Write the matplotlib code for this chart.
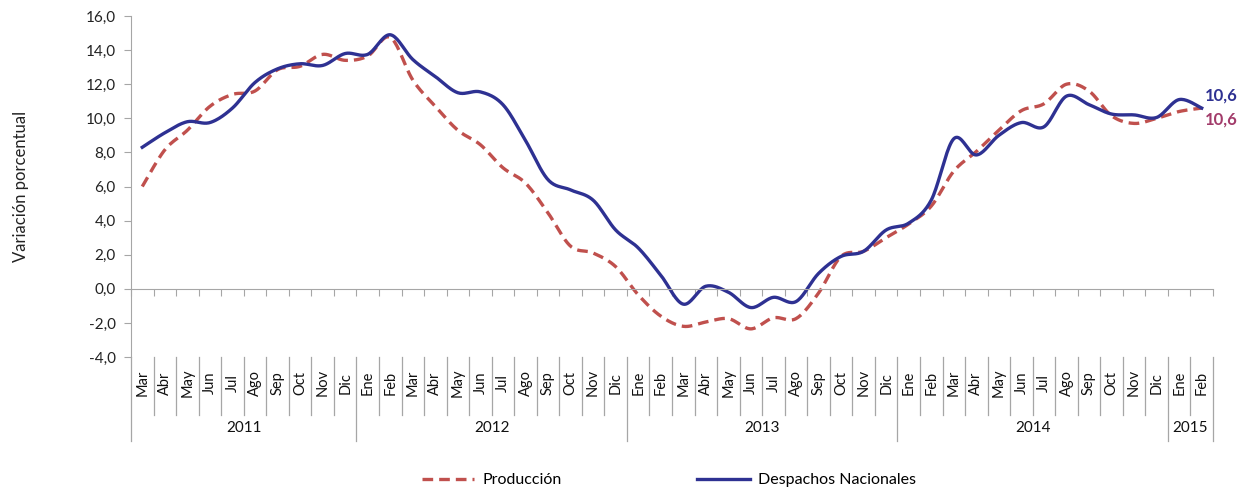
import numpy as np
import matplotlib
matplotlib.use('Agg')
import matplotlib.pyplot as plt
from matplotlib.lines import Line2D
from matplotlib.ticker import FuncFormatter, FixedLocator

# Variacion porcentual, Mar 2011 - Feb 2015
months = ['Mar', 'Abr', 'May', 'Jun', 'Jul', 'Ago', 'Sep', 'Oct', 'Nov', 'Dic',
          'Ene', 'Feb', 'Mar', 'Abr', 'May', 'Jun', 'Jul', 'Ago', 'Sep', 'Oct', 'Nov', 'Dic',
          'Ene', 'Feb', 'Mar', 'Abr', 'May', 'Jun', 'Jul', 'Ago', 'Sep', 'Oct', 'Nov', 'Dic',
          'Ene', 'Feb', 'Mar', 'Abr', 'May', 'Jun', 'Jul', 'Ago', 'Sep', 'Oct', 'Nov', 'Dic',
          'Ene', 'Feb']
years = ['2011', '2012', '2013', '2014', '2015']
year_counts = [10, 12, 12, 12, 2]

produccion = [6.0, 8.15, 9.3, 10.7, 11.4, 11.6, 12.85, 13.05, 13.75, 13.4,
              13.65, 14.75, 12.25, 10.7, 9.3, 8.45, 7.1, 6.2, 4.45, 2.5, 2.1, 1.3,
              -0.35, -1.6, -2.2, -1.95, -1.75, -2.35, -1.7, -1.75, -0.25, 1.9, 2.2, 3.0,
              3.8, 4.85, 6.9, 8.05, 9.3, 10.45, 10.85, 12.0, 11.6, 10.15, 9.7, 10.0,
              10.4, 10.6]
despachos = [8.3, 9.15, 9.8, 9.75, 10.6, 12.1, 12.9, 13.2, 13.1, 13.8,
             13.75, 14.9, 13.45, 12.45, 11.5, 11.55, 10.8, 8.7, 6.4, 5.8, 5.2, 3.45,
             2.4, 0.8, -0.9, 0.15, -0.2, -1.1, -0.5, -0.75, 0.9, 1.9, 2.2, 3.45,
             3.85, 5.2, 8.8, 7.85, 9.0, 9.75, 9.5, 11.3, 10.8, 10.25, 10.2, 10.05,
             11.1, 10.6]

BLUE = '#2E3192'
RED = '#C0504D'
LABEL_RED = '#A23B6A'
GRAY = '#A6A6A6'

plt.rcParams['font.family'] = ['Lato', 'DejaVu Sans']


def smooth(y, n=20):
    # Excel-like smoothed line: cubic Bezier with Catmull-Rom control points
    y = np.asarray(y, dtype=float)
    x = np.arange(len(y), dtype=float)
    px = np.concatenate([[x[0]], x, [x[-1]]])
    py = np.concatenate([[y[0]], y, [y[-1]]])
    t = np.linspace(0, 1, n, endpoint=False)
    xs, ys = [], []
    for i in range(len(y) - 1):
        p0x, p1x, p2x, p3x = px[i], px[i + 1], px[i + 2], px[i + 3]
        p0y, p1y, p2y, p3y = py[i], py[i + 1], py[i + 2], py[i + 3]
        c1x, c1y = p1x + (p2x - p0x) / 6, p1y + (p2y - p0y) / 6
        c2x, c2y = p2x - (p3x - p1x) / 6, p2y - (p3y - p1y) / 6
        b0 = (1 - t) ** 3
        b1 = 3 * (1 - t) ** 2 * t
        b2 = 3 * (1 - t) * t ** 2
        b3 = t ** 3
        xs.append(b0 * p1x + b1 * c1x + b2 * c2x + b3 * p2x)
        ys.append(b0 * p1y + b1 * c1y + b2 * c2y + b3 * p2y)
    xs.append([x[-1]])
    ys.append([y[-1]])
    return np.concatenate(xs), np.concatenate(ys)


fig = plt.figure(figsize=(12.5, 4.91), dpi=100)
ax = fig.add_axes([0.1048, 0.2729, 0.8656, 0.6945])

xr, yr = smooth(produccion)
xb, yb = smooth(despachos)
ax.plot(xr, yr, color=RED, lw=2.4, ls=(0, (3.2, 1.8)), label='Producción',
        solid_capstyle='round')
ax.plot(xb, yb, color=BLUE, lw=2.4, label='Despachos Nacionales')

ax.set_xlim(-0.5, len(months) - 0.5)
ax.set_ylim(-4, 16)
ax.yaxis.set_major_locator(FixedLocator(np.arange(-4, 16.1, 2)))
ax.yaxis.set_major_formatter(FuncFormatter(lambda v, p: f'{v:.1f}'.replace('.', ',')))
ax.tick_params(axis='y', direction='out', length=5, color=GRAY, labelsize=11,
               labelcolor='#222222', pad=6)

for s in ['top', 'right']:
    ax.spines[s].set_visible(False)
ax.spines['left'].set_color(GRAY)
ax.spines['bottom'].set_color(GRAY)
ax.spines['bottom'].set_position(('data', 0))
ax.xaxis.set_major_locator(FixedLocator(np.arange(-0.5, len(months), 1.0)))
ax.tick_params(axis='x', direction='out', length=5, color=GRAY, labelbottom=False)

ax.set_ylabel('Variación porcentual', fontsize=12, color='#222222', labelpad=41)

# category labels below plot area
tr = ax.get_xaxis_transform()
for i, m in enumerate(months):
    ax.text(i, -0.076, m, transform=tr, rotation=90, ha='center', va='center',
            fontsize=10.5, color='#111111')
year_bounds = np.concatenate([[0], np.cumsum(year_counts)]) - 0.5
for b in np.arange(-0.5, len(months), 1.0):
    depth = -0.245 if b in year_bounds else -0.17
    ax.add_line(Line2D([b, b], [0, depth], transform=tr, color=GRAY, lw=0.9, clip_on=False))
for k, yname in enumerate(years):
    c = (year_bounds[k] + year_bounds[k + 1]) / 2
    ax.text(c, -0.208, yname, transform=tr, ha='center', va='center', fontsize=11,
            color='#111111')

# end labels
ax.annotate('10,6', xy=(len(months) - 1, despachos[-1]), xytext=(2, 9),
            textcoords='offset points', color=BLUE, fontsize=12, fontweight='bold',
            va='center', ha='left', annotation_clip=False)
ax.annotate('10,6', xy=(len(months) - 1, produccion[-1]), xytext=(2, -8),
            textcoords='offset points', color=LABEL_RED, fontsize=12, fontweight='bold',
            va='center', ha='left', annotation_clip=False)

fig.legend(loc='lower center', bbox_to_anchor=(0.535, -0.022), ncol=2, frameon=False,
           fontsize=11.5, handlelength=3.3, handletextpad=0.5, columnspacing=8.5)

fig.savefig('out.png', dpi=100)
